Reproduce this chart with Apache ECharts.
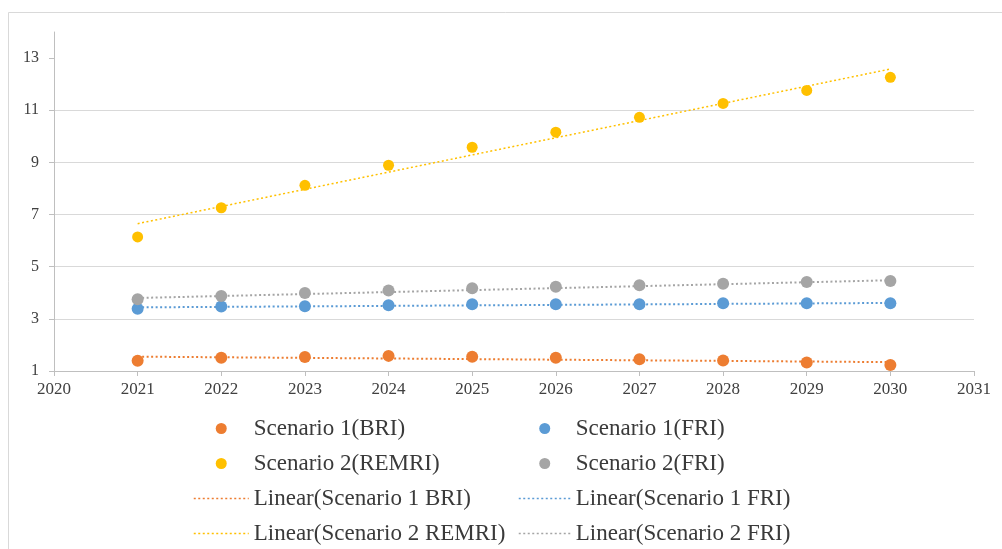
<!DOCTYPE html>
<html>
<head>
<meta charset="utf-8">
<script src="https://cdn.jsdelivr.net/npm/echarts@6/dist/echarts.min.js"></script>
<style>
html,body{margin:0;padding:0;background:#fff;}
#c{width:1002px;height:549px;}
</style>
</head>
<body>
<div id="c"></div>
<script>
const years = [2021, 2022, 2023, 2024, 2025, 2026, 2027, 2028, 2029, 2030];
const s1BRI   = [1.39, 1.51, 1.54, 1.58, 1.55, 1.51, 1.45, 1.40, 1.33, 1.23];
const s1FRI   = [3.39, 3.47, 3.48, 3.52, 3.56, 3.56, 3.56, 3.60, 3.60, 3.60];
const s2REMRI = [6.14, 7.26, 8.12, 8.89, 9.58, 10.16, 10.73, 11.26, 11.76, 12.26];
const s2FRI   = [3.75, 3.88, 3.99, 4.09, 4.17, 4.23, 4.29, 4.35, 4.41, 4.45];
// trendline end values (read at 2021 and 2030)
const trendYears = [2021, 2030];
const trendS1BRI   = [1.55, 1.34];
const trendS1FRI   = [3.44, 3.61];
const trendS2REMRI = [6.65, 12.58];
const trendS2FRI   = [3.80, 4.48];
const yTicks = [1, 3, 5, 7, 9, 11, 13];

const C = {orange:'#ED7D31', blue:'#5B9BD5', yellow:'#FFC000', gray:'#A5A5A5'};
const pairs = (xs, ys) => xs.map((x, i) => [x, ys[i]]);

function scatter(name, ys, color, size) {
  return {name, type:'scatter', data:pairs(years, ys), symbolSize:size,
    itemStyle:{color, opacity:1}, z:3};
}
function trend(name, ys, color, w) {
  return {name, type:'line', data:pairs(trendYears, ys), symbol:'none',
    lineStyle:{color, width:w, type:[2,2.5]}, itemStyle:{color}, z:2, silent:true};
}
const lineLegend = (name) => ({name, itemStyle:{opacity:0}, lineStyle:{width:1.5}});

const legendText = {fontFamily:'Liberation Serif', fontSize:23, color:'#3a3a3a'};
const chart = echarts.init(document.getElementById('c'), null, {renderer:'canvas'});
chart.setOption({
  animation:false,
  backgroundColor:'#fff',
  graphic:[{type:'rect', shape:{x:8.5, y:12.5, width:1100, height:600},
    style:{fill:'none', stroke:'#d9d9d9', lineWidth:1}, silent:true}],
  grid:{left:54, right:28, top:32, bottom:178, containLabel:false},
  xAxis:{type:'value', min:2020, max:2031, interval:1,
    axisLine:{show:true, lineStyle:{color:'#bfbfbf', width:1}},
    axisTick:{show:true, length:5, lineStyle:{color:'#bfbfbf'}},
    splitLine:{show:false},
    axisLabel:{fontFamily:'Liberation Serif', fontSize:17, color:'#404040', margin:10,
      formatter:(v) => String(v)}},
  yAxis:{type:'value', min:1, max:14, interval:2,
    axisLine:{show:true, lineStyle:{color:'#bfbfbf', width:1}},
    axisTick:{show:true, length:5, lineStyle:{color:'#bfbfbf'}, customValues:yTicks},
    splitLine:{show:true, showMaxLine:false, lineStyle:{color:'#d9d9d9', width:1}},
    axisLabel:{fontFamily:'Liberation Serif', fontSize:16, color:'#404040', margin:15,
      customValues:yTicks}},
  legend:[
    {orient:'vertical', left:193, top:417, height:150, padding:0,
     itemWidth:55, itemHeight:11, itemGap:12,
     textStyle:legendText, selectedMode:false,
     data:[{name:'Scenario 1(BRI)', icon:'circle'}, {name:'Scenario 2(REMRI)', icon:'circle'},
           lineLegend('Linear(Scenario 1 BRI)'), lineLegend('Linear(Scenario 2 REMRI)')]},
    {orient:'vertical', left:518, top:417, height:150, padding:0,
     itemWidth:52, itemHeight:11, itemGap:12,
     textStyle:legendText, selectedMode:false,
     data:[{name:'Scenario 1(FRI)', icon:'circle'}, {name:'Scenario 2(FRI)', icon:'circle'},
           lineLegend('Linear(Scenario 1 FRI)'), lineLegend('Linear(Scenario 2 FRI)')]}
  ],
  series:[
    trend('Linear(Scenario 1 BRI)', trendS1BRI, C.orange, 2),
    trend('Linear(Scenario 1 FRI)', trendS1FRI, C.blue, 2),
    trend('Linear(Scenario 2 REMRI)', trendS2REMRI, C.yellow, 1.5),
    trend('Linear(Scenario 2 FRI)', trendS2FRI, C.gray, 2),
    scatter('Scenario 1(BRI)', s1BRI, C.orange, 12),
    scatter('Scenario 1(FRI)', s1FRI, C.blue, 12),
    scatter('Scenario 2(REMRI)', s2REMRI, C.yellow, 11),
    scatter('Scenario 2(FRI)', s2FRI, C.gray, 12)
  ]
});
</script>
</body>
</html>
